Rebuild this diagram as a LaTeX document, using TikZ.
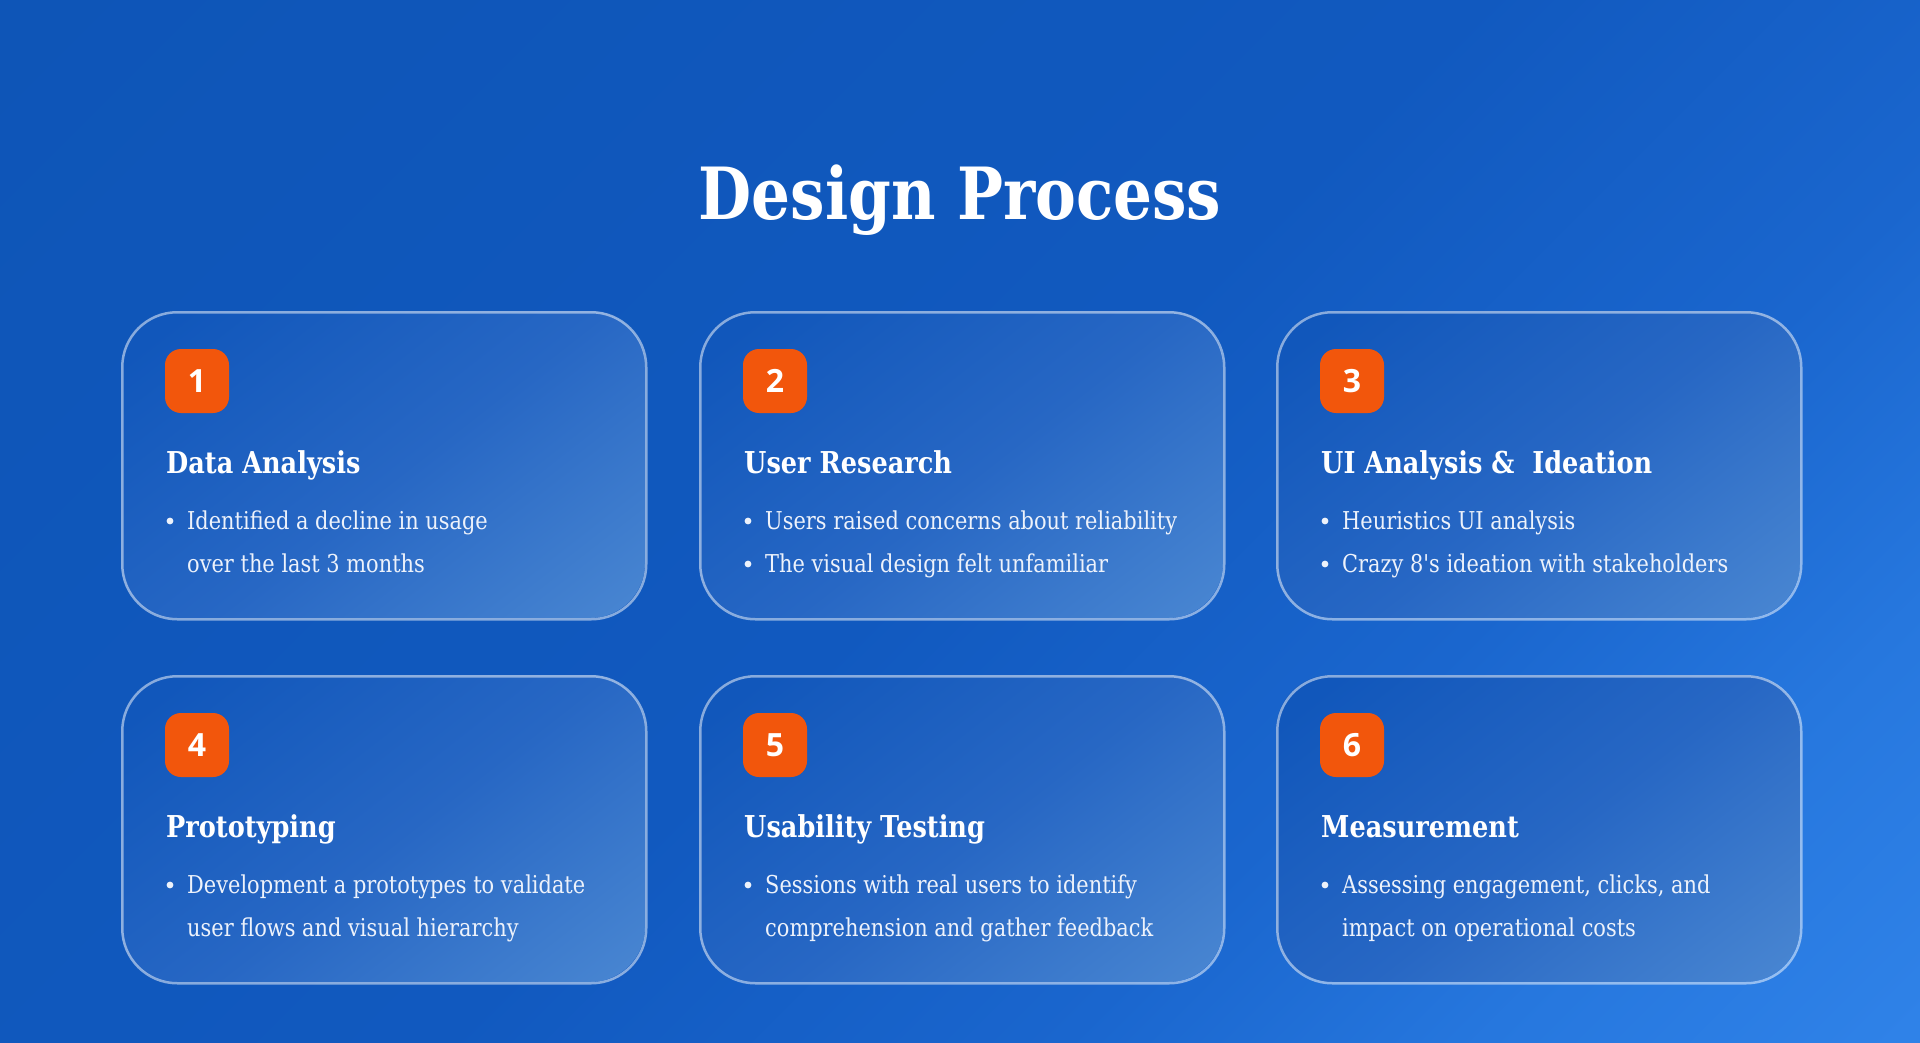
\documentclass[tikz,border=0pt]{standalone}
\usepackage{fontspec}
\setmainfont{DejaVu Serif}[FakeStretch=0.85]
\newfontfamily\plainserif{DejaVu Serif}[FakeStretch=0.85]
\newfontfamily\numfont{Open Sans}
\definecolor{bgA}{HTML}{0E55B7}
\definecolor{bgM}{HTML}{1159BF}
\definecolor{bgB}{HTML}{1A66CE}
\definecolor{bgC}{HTML}{2677DE}
\definecolor{bgD}{HTML}{2F82E8}
\definecolor{cardA}{HTML}{1157BB}
\definecolor{cardB}{HTML}{2767C4}
\definecolor{cardC}{HTML}{4A87D2}
\definecolor{badgeorange}{HTML}{F2560C}
\definecolor{bodytext}{HTML}{EDF2FB}
\pgfdeclarehorizontalshading{bgshade}{100bp}{color(0bp)=(bgA); color(15bp)=(bgA); color(50bp)=(bgM); color(65bp)=(bgB); color(75bp)=(bgC); color(85bp)=(bgD); color(100bp)=(bgD)}
\pgfdeclarehorizontalshading{cardshade}{100bp}{color(0bp)=(cardA); color(20bp)=(cardA); color(52bp)=(cardB); color(85bp)=(cardC); color(100bp)=(cardC)}
\tikzset{
  cardframe/.style={draw=white, draw opacity=0.5, line width=2.5pt, rounded corners=55pt,
    minimum width=524pt, minimum height=307pt, inner sep=0pt},
  badge/.style={fill=badgeorange, rounded corners=16pt, minimum width=64pt, minimum height=64pt,
    inner sep=0pt, text=white, font=\numfont\bfseries\fontsize{32}{38}\selectfont},
  cardtitle/.style={anchor=base west, inner sep=0pt, text=white, font=\bfseries\fontsize{30.1}{36}\selectfont},
  bodyline/.style={anchor=base west, inner sep=0pt, text=bodytext, font=\fontsize{24.6}{30}\selectfont},
  dot/.style={fill=bodytext}
}
\newcommand\cardbox[8]{%
  \shade[shading=cardshade, shading angle=-52, rounded corners=55pt] (#2,#3) rectangle ({#2+524},{#3+307});
  \node[cardframe, anchor=north west] (#1) at (#2,#3) {};
  \node[badge] (#1b) at ({#2+76},{#3+70}) {#4};
  \node[cardtitle] (#1t) at ({#2+45},{#3+162}) {#5};
  \fill[dot] ({#2+49},{#3+210}) circle (3.4pt);
  \node[bodyline] (#1a) at ({#2+66},{#3+218}) {#6};
  \ifx&#8&\else\fill[dot] ({#2+49},{#3+253}) circle (3.4pt);\fi
  \node[bodyline] (#1c) at ({#2+66},{#3+261}) {#7};
}
\begin{document}
\begin{tikzpicture}[x=1pt,y=-1pt]
\useasboundingbox (0,0) rectangle (1920,1043);
\shade[shading=bgshade, shading angle=-45] (0,0) rectangle (1920,1043);
\node[anchor=base, inner sep=0pt, text=white, font=\bfseries\fontsize{72}{86}\selectfont] (title) at (960,220) {Design Process};
\cardbox{c1}{121}{311}{1}{Data Analysis}{Identified a decline in usage}{over the last 3 months}{}
\cardbox{c2}{699}{311}{2}{User Research}{Users raised concerns about reliability}{The visual design felt unfamiliar}{y}
\cardbox{c3}{1276}{311}{3}{UI Analysis \&\ \ Ideation}{Heuristics UI analysis}{Crazy 8{\plainserif '}s ideation with stakeholders}{y}
\cardbox{c4}{121}{675}{4}{Prototyping}{Development a prototypes to validate}{user flows and visual hierarchy}{}
\cardbox{c5}{699}{675}{5}{Usability Testing}{Sessions with real users to identify}{comprehension and gather feedback}{}
\cardbox{c6}{1276}{675}{6}{Measurement}{Assessing engagement, clicks, and}{impact on operational costs}{}
\end{tikzpicture}
\end{document}
